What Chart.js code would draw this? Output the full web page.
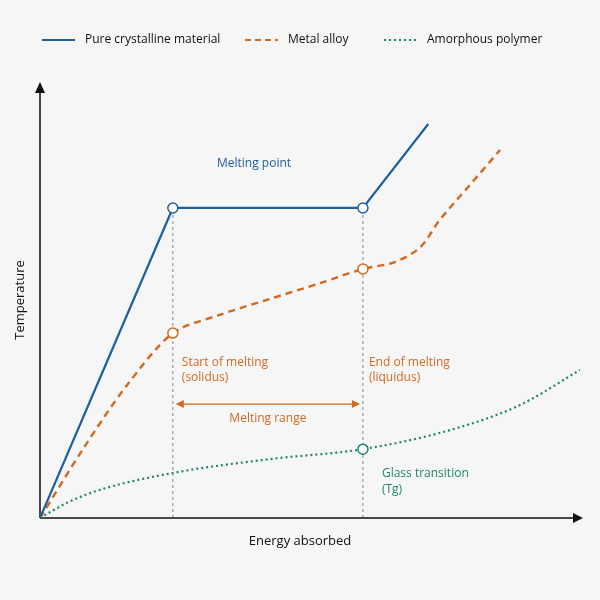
<!DOCTYPE html>
<html>
<head>
<meta charset="utf-8">
<script src="https://cdn.jsdelivr.net/npm/chart.js@4.4.1/dist/chart.umd.min.js"></script>
<style>
  body { margin: 0; background: #f6f6f6; }
  #wrap { width: 600px; height: 600px; }
</style>
</head>
<body>
<div id="wrap"><canvas id="c" width="600" height="600"></canvas></div>
<script>
// values (x = energy, y = temperature, arbitrary units 0..100)
const pureX = [0, 24.6, 59.8, 71.9];
const pureY = [0, 71.6, 71.6, 91];
const alloyX = [0, 8, 16, 24.6, 33, 42.6, 52, 59.8, 65.7, 70.4, 74, 79.6, 85.2];
const alloyY = [0, 16, 30.5, 42.7, 46.8, 50.6, 54.3, 57.5, 59.1, 62.5, 68.8, 76.9, 85];
const polyX = [0, 5, 11.1, 24.6, 42.6, 59.8, 75.9, 88.9, 100];
const polyY = [0, 3.5, 6.5, 10.4, 13.6, 15.9, 20.3, 26.1, 34.2];
const solidusX = 24.6, liquidusX = 59.8, meltY = 71.6, rangeY = 26.3;

const blue = '#1f5fa0', orange = '#d2691e', green = '#1e8a5e', grey = '#888';
const pts = (xs, ys) => xs.map((x, i) => ({x, y: ys[i]}));

function marker(data, color) {
  return { type: 'scatter', data, showLine: false, pointRadius: 5, pointBorderWidth: 1.5,
    pointBackgroundColor: '#fff', pointBorderColor: color, order: 0 };
}

const extras = {
  id: 'extras',
  beforeDatasetsDraw(chart) {
    const {ctx, scales: {x, y}} = chart;
    ctx.save();
    ctx.strokeStyle = grey; ctx.lineWidth = 1; ctx.setLineDash([3, 3]);
    [solidusX, liquidusX].forEach(v => {
      ctx.beginPath(); ctx.moveTo(x.getPixelForValue(v), y.getPixelForValue(0));
      ctx.lineTo(x.getPixelForValue(v), y.getPixelForValue(meltY)); ctx.stroke();
    });
    ctx.setLineDash([]);
    const x0 = x.getPixelForValue(0), y0 = y.getPixelForValue(0);
    ctx.strokeStyle = '#111'; ctx.fillStyle = '#111'; ctx.lineWidth = 1.5;
    ctx.beginPath(); ctx.moveTo(x0, y0); ctx.lineTo(576, y0); ctx.moveTo(x0, y0); ctx.lineTo(x0, 90); ctx.stroke();
    ctx.beginPath(); ctx.moveTo(583, y0); ctx.lineTo(573, y0 - 5); ctx.lineTo(573, y0 + 5); ctx.fill();
    ctx.beginPath(); ctx.moveTo(x0, 82); ctx.lineTo(x0 - 5, 93); ctx.lineTo(x0 + 5, 93); ctx.fill();
    const a = x.getPixelForValue(solidusX) + 3, b = x.getPixelForValue(liquidusX) - 3, ry = y.getPixelForValue(rangeY);
    ctx.strokeStyle = orange; ctx.fillStyle = orange; ctx.lineWidth = 1.2;
    ctx.beginPath(); ctx.moveTo(a + 5, ry); ctx.lineTo(b - 5, ry); ctx.stroke();
    ctx.beginPath(); ctx.moveTo(a, ry); ctx.lineTo(a + 8, ry - 4); ctx.lineTo(a + 8, ry + 4); ctx.fill();
    ctx.beginPath(); ctx.moveTo(b, ry); ctx.lineTo(b - 8, ry - 4); ctx.lineTo(b - 8, ry + 4); ctx.fill();
    ctx.restore();
  },
  afterDraw(chart) {
    const {ctx, scales: {x, y}} = chart;
    ctx.save();
    ctx.font = '12px "Open Sans"'; ctx.textBaseline = 'middle';
    const sx = x.getPixelForValue(solidusX), lx = x.getPixelForValue(liquidusX);
    ctx.fillStyle = blue; ctx.textAlign = 'center';
    ctx.fillText('Melting point', 254, 164);
    ctx.fillStyle = orange; ctx.textAlign = 'left';
    ctx.fillText('Start of melting', sx + 9, 363); ctx.fillText('(solidus)', sx + 9, 378);
    ctx.fillText('End of melting', lx + 6, 363); ctx.fillText('(liquidus)', lx + 6, 378);
    ctx.textAlign = 'center'; ctx.fillText('Melting range', (sx + lx) / 2, 419);
    ctx.fillStyle = green; ctx.textAlign = 'left';
    ctx.fillText('Glass transition', lx + 19, 474); ctx.fillText('(Tg)', lx + 19, 490);
    ctx.fillStyle = '#111'; ctx.font = '13px "Open Sans"'; ctx.textAlign = 'center';
    ctx.fillText('Energy absorbed', 300, 541);
    ctx.translate(20, 300); ctx.rotate(-Math.PI / 2); ctx.fillText('Temperature', 0, 0);
    ctx.restore();
    ctx.save();
    ctx.font = '12px "Open Sans"'; ctx.textBaseline = 'middle'; ctx.fillStyle = '#111'; ctx.lineWidth = 2.2;
    const items = [[blue, [], 42, 'Pure crystalline material'], [orange, [6, 4], 245, 'Metal alloy'], [green, [2, 3], 384, 'Amorphous polymer']];
    items.forEach(([c, d, lx0, t]) => {
      ctx.strokeStyle = c; ctx.setLineDash(d);
      ctx.beginPath(); ctx.moveTo(lx0, 40); ctx.lineTo(lx0 + 33, 40); ctx.stroke();
      ctx.fillText(t, lx0 + 43, 40);
    });
    ctx.restore();
  }
};

new Chart(document.getElementById('c'), {
  type: 'scatter',
  data: {
    datasets: [
      { data: pts(pureX, pureY), showLine: true, borderColor: blue, borderWidth: 2.2, pointRadius: 0, tension: 0, order: 2 },
      { data: pts(alloyX, alloyY), showLine: true, borderColor: orange, borderWidth: 2.4, borderDash: [7, 5], pointRadius: 0, tension: 0.3, order: 2 },
      { data: pts(polyX, polyY), showLine: true, borderColor: green, borderWidth: 2.2, borderDash: [2, 3], pointRadius: 0, cubicInterpolationMode: 'monotone', order: 2 },
      marker([{x: solidusX, y: meltY}, {x: liquidusX, y: meltY}], blue),
      marker([{x: solidusX, y: 42.7}, {x: liquidusX, y: 57.5}], orange),
      marker([{x: liquidusX, y: 15.9}], green)
    ]
  },
  options: {
    responsive: false, animation: false,
    layout: { padding: { left: 40, right: 20, top: 85, bottom: 82 } },
    plugins: { legend: { display: false }, tooltip: { enabled: false } },
    scales: {
      x: { type: 'linear', min: 0, max: 100, display: false },
      y: { min: 0, max: 100, display: false }
    }
  },
  plugins: [extras]
});
</script>
</body>
</html>
